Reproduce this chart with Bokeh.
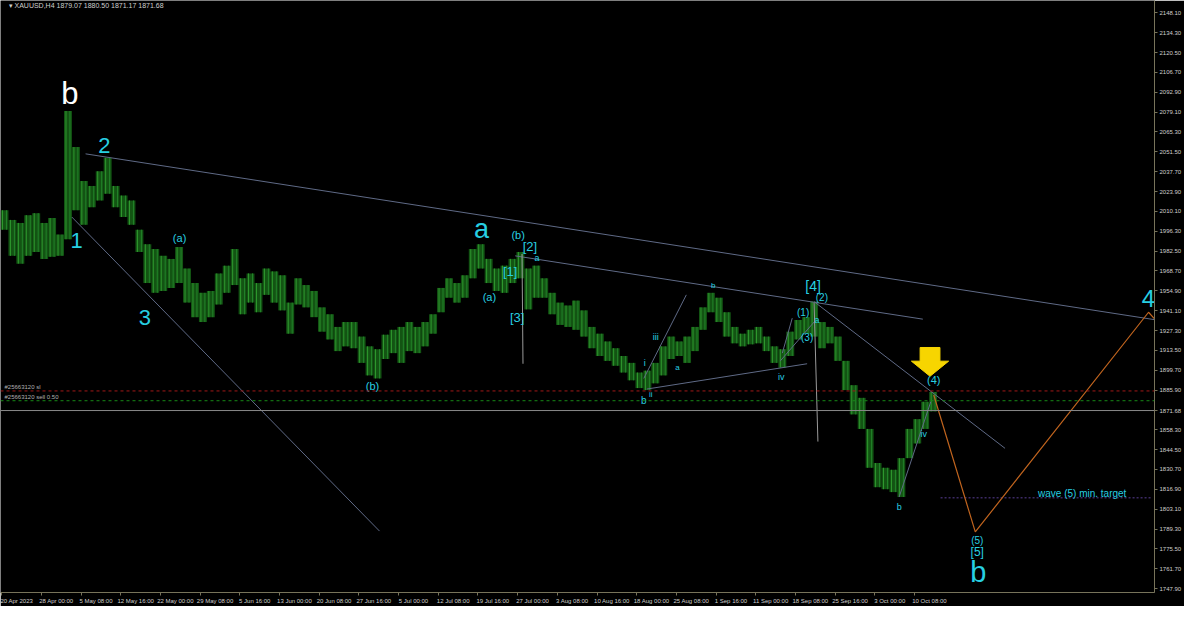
from bokeh.plotting import figure
from bokeh.models import FixedTicker, Label, Span
from bokeh.core.properties import value
from bokeh.embed import file_html
from bokeh.resources import INLINE
import numpy as np

# ---------------- data (XAUUSD H4) ----------------
# one column per ~6.4 H4 bars: high / low of that group
highs = [2010.9, 2004.2, 2002.1, 2007.5, 2008.9, 2002.1, 2005.5, 1994.0, 2079.9, 2054.8,
         2031.2, 2027.8, 2038.0, 2047.4, 2027.8, 2021.1, 2017.7, 1997.4, 1987.3, 1983.9,
         1979.2, 1977.1, 1985.3, 1970.4, 1960.3, 1953.5, 1954.8, 1967.0, 1972.4, 1983.9,
         1963.6, 1967.0, 1960.3, 1970.4, 1968.4, 1965.7, 1946.7, 1963.6, 1958.9, 1954.8,
         1943.4, 1938.6, 1929.8, 1933.2, 1933.2, 1923.1, 1916.3, 1914.3, 1924.4, 1927.8,
         1929.8, 1933.2, 1929.8, 1933.2, 1938.6, 1956.9, 1963.6, 1960.3, 1965.7, 1983.9,
         1987.3, 1977.1, 1970.4, 1972.4, 1977.1, 1981.9, 1970.4, 1972.4, 1963.6, 1953.5,
         1946.7, 1944.7, 1948.1, 1941.3, 1929.8, 1925.1, 1919.7, 1915.0, 1909.6, 1904.8,
         1898.1, 1899.4, 1904.8, 1916.3, 1923.1, 1919.7, 1923.1, 1929.8, 1943.4, 1953.5,
         1950.1, 1940.0, 1929.8, 1925.1, 1927.8, 1929.8, 1923.1, 1916.3, 1914.3, 1926.5,
         1934.6, 1936.6, 1947.4, 1933.2, 1929.8, 1923.1, 1906.2, 1889.3, 1880.5, 1858.9,
         1835.2, 1831.9, 1830.5, 1838.6, 1858.9, 1865.7, 1877.8, 1884.6]
lows = [1997.4, 1979.2, 1973.8, 1979.2, 1981.9, 1977.1, 1978.5, 1979.2, 1990.7, 2010.9,
        2000.8, 2013.0, 2017.7, 2022.4, 2013.0, 2006.2, 2000.8, 1981.9, 1960.3, 1953.5,
        1954.8, 1956.9, 1960.3, 1946.7, 1936.6, 1933.2, 1936.6, 1945.4, 1953.5, 1958.9,
        1938.6, 1946.7, 1940.0, 1952.1, 1946.7, 1941.3, 1925.1, 1945.4, 1943.4, 1936.6,
        1926.5, 1921.1, 1913.0, 1916.3, 1915.0, 1904.8, 1896.1, 1894.0, 1907.5, 1911.6,
        1904.8, 1913.0, 1911.6, 1916.3, 1925.1, 1940.0, 1950.1, 1946.7, 1950.1, 1963.6,
        1970.4, 1960.3, 1954.8, 1953.5, 1960.3, 1963.6, 1942.0, 1950.1, 1950.1, 1938.6,
        1931.2, 1929.8, 1927.8, 1923.1, 1915.0, 1909.6, 1906.2, 1902.8, 1898.1, 1892.7,
        1887.3, 1885.9, 1890.6, 1896.1, 1907.5, 1909.6, 1904.8, 1913.0, 1927.8, 1940.0,
        1933.2, 1923.1, 1918.4, 1916.3, 1917.7, 1918.4, 1913.0, 1904.8, 1901.5, 1909.6,
        1921.1, 1925.1, 1923.1, 1915.0, 1918.4, 1906.2, 1885.9, 1869.0, 1858.9, 1831.9,
        1818.4, 1817.0, 1815.0, 1811.6, 1838.6, 1848.8, 1858.9, 1871.1]

time_labels = ["20 Apr 2023", "28 Apr 00:00", "5 May 08:00", "12 May 16:00", "22 May 00:00",
               "29 May 08:00", "5 Jun 16:00", "13 Jun 00:00", "20 Jun 08:00", "27 Jun 16:00",
               "5 Jul 00:00", "12 Jul 08:00", "19 Jul 16:00", "27 Jul 00:00", "3 Aug 08:00",
               "10 Aug 16:00", "18 Aug 00:00", "25 Aug 08:00", "1 Sep 16:00", "11 Sep 00:00",
               "18 Sep 08:00", "25 Sep 16:00", "3 Oct 00:00", "10 Oct 08:00"]
price_labels = ["2148.10", "2134.30", "2120.50", "2106.70", "2092.90", "2079.10", "2065.30",
                "2051.50", "2037.70", "2023.90", "2010.10", "1996.30", "1982.50", "1968.70",
                "1954.90", "1941.10", "1927.30", "1913.50", "1899.70", "1885.90", "1858.30",
                "1844.50", "1830.70", "1816.90", "1803.10", "1789.30", "1775.50", "1761.70",
                "1747.90"]

last_price = 1871.68
header = "XAUUSD,H4  1879.07 1880.50 1871.17 1871.68"
sl_level, sl_text = 1885.3, "#25663120 sl"
entry_level, entry_text = 1878.5, "#25663120 sell 0.50"
target_level, target_text = 1811.0, "wave (5) min. target"

BARS_PER_COL = 6.4
xs = np.arange(len(highs)) * BARS_PER_COL + 3.2

CYAN = "#27cfe2"
FONT = "Liberation Sans"

p = figure(width=1184, height=606, x_range=(0, 930.5), y_range=(1745.2, 2156.7),
           y_axis_location="right", output_backend="svg", toolbar_location=None,
           background_fill_color="black", border_fill_color="black",
           min_border_left=0, min_border_top=0, min_border_bottom=0, min_border_right=0)
p.outline_line_color = None
p.grid.visible = False

# axes
AX = "#77735a"
for ax in (p.xaxis[0], p.yaxis[0]):
    ax.axis_line_color = AX
    ax.major_tick_line_color = AX
    ax.minor_tick_line_color = AX
    ax.major_tick_out = 3
    ax.major_tick_in = 0
    ax.minor_tick_in = 0
    ax.major_label_text_color = "#cfcfcf"
    ax.major_label_text_font = FONT
    ax.major_label_text_font_size = "6px"
    ax.major_label_standoff = 2

# MT4 writes each time label to the right of its tick: ticks marked as minor ticks,
# label anchors shifted by half a label width
tick_pos = [1 + 32 * k for k in range(len(time_labels))]
label_pos = [t + 12 for t in tick_pos]
p.xaxis.ticker = FixedTicker(ticks=label_pos, minor_ticks=tick_pos)
p.xaxis.major_label_overrides = {t: s for t, s in zip(label_pos, time_labels)}
p.xaxis.major_tick_out = 0
p.xaxis.minor_tick_out = 3

# price scale, including the current-price tag
yvals = [float(s) for s in price_labels]
p.yaxis.ticker = FixedTicker(ticks=yvals + [last_price])
overrides = {v: s for v, s in zip(yvals, price_labels)}
overrides[last_price] = f"{last_price:.2f}"
p.yaxis.major_label_overrides = overrides

# horizontal levels
p.add_layout(Span(location=sl_level, dimension="width", line_color="#a01818",
                  line_dash="3 3", line_width=1))
p.add_layout(Span(location=entry_level, dimension="width", line_color="#178a17",
                  line_dash="3 3", line_width=1))
p.add_layout(Span(location=last_price, dimension="width", line_color="#8a8a8a", line_width=1))
p.segment(x0=[758], y0=[target_level], x1=[928], y1=[target_level], line_color="#5a3f96",
          line_dash="2 2", line_width=1)

# price bars: solid band plus thin bright bar strokes
p.vbar(x=xs, top=highs, bottom=lows, width=BARS_PER_COL,
       fill_color="#135413", line_color=None)
p.segment(x0=xs - 1.6, y0=lows, x1=xs - 1.6, y1=highs, line_color="#2f9a2f", line_width=1)
p.segment(x0=xs + 1.6, y0=lows, x1=xs + 1.6, y1=highs, line_color="#22842a", line_width=1)

# trend lines
LN = "#5f6a86"
seg = [((68.6, 2050.1), (937.6, 1933.9)),
       ((415.0, 1979.2), (743.7, 1935.2)),
       ((57.5, 2006.2), (305.6, 1787.9)),
       ((521.1, 1886.6), (650.4, 1904.2)),
       ((518.7, 1894.0), (553.0, 1952.1)),
       ((628.8, 1906.2), (656.0, 1933.2)),
       ((630.4, 1911.6), (638.4, 1935.9)),
       ((656.0, 1947.4), (810.0, 1845.4)),
       ((724.6, 1811.6), (750.1, 1877.8))]
p.segment(x0=[s[0][0] for s in seg], y0=[s[0][1] for s in seg],
          x1=[s[1][0] for s in seg], y1=[s[1][1] for s in seg],
          line_color=LN, line_width=1)
vert = [((420.5, 1980.5), (421.3, 1904.2)), ((656.0, 1946.7), (659.1, 1850.1))]
p.segment(x0=[s[0][0] for s in vert], y0=[s[0][1] for s in vert],
          x1=[s[1][0] for s in vert], y1=[s[1][1] for s in vert],
          line_color="#9a9a9a", line_width=1)

# projected path
p.line(x=[752.5, 786.0, 925.7, 940.0], y=[1882.5, 1787.3, 1940.0, 1926.5],
       line_color="#c0641e", line_width=1.2)

# yellow arrow
ax_c, ay_tip = 749.5, 1895.5
p.patch(x=[ax_c - 8, ax_c + 8, ax_c + 8, ax_c + 15, ax_c, ax_c - 15, ax_c - 8],
        y=[1915.5, 1915.5, 1906.0, 1906.0, ay_tip, 1906.0, 1906.0],
        fill_color="#f7d500", line_color="#f7d500")

# wave labels
def lab(x, y, t, size, color=CYAN):
    p.text(x=[x], y=[y], text=[t], text_color=color, text_font=value(FONT),
           text_font_size=size, text_align="center", text_baseline="middle")

lab(55.9, 2092.0, "b", "31px", "white")
lab(83.8, 2056.2, "2", "22px")
lab(61.4, 1990.0, "1", "22px")
lab(116.5, 1936.6, "3", "22px")
lab(144.4, 1991.3, "(a)", "11px")
lab(300.0, 1888.6, "(b)", "11px")
lab(387.8, 1998.1, "a", "27px")
lab(394.2, 1950.8, "(a)", "11px")
lab(417.4, 1994.0, "(b)", "11px")
lab(426.9, 1985.9, "[2]", "13px")
lab(432.5, 1977.8, "a", "9px")
lab(411.0, 1968.4, "[1]", "13px")
lab(416.6, 1936.6, "[3]", "13px")
lab(519.5, 1904.8, "i", "9px")
lab(528.3, 1923.1, "iii", "9px")
lab(545.8, 1901.5, "a", "8px")
lab(518.7, 1878.5, "b", "10px")
lab(524.3, 1882.5, "ii", "8px")
lab(574.6, 1958.9, "b", "8px")
lab(629.6, 1894.7, "iv", "9px")
lab(655.2, 1958.2, "[4]", "14px")
lab(662.3, 1950.1, "(2)", "10px")
lab(647.2, 1940.0, "(1)", "10px")
lab(658.4, 1934.6, "a", "9px")
lab(650.4, 1922.4, "(3)", "10px")
lab(752.5, 1892.7, "(4)", "11px")
lab(744.5, 1855.5, "iv", "9px")
lab(724.6, 1804.8, "b", "9px")
lab(787.6, 1781.2, "(5)", "10px")
lab(787.6, 1773.1, "[5]", "12px")
lab(788.4, 1759.6, "b", "29px")
lab(925.7, 1949.4, "4", "24px")
lab(872.2, 1814.3, target_text, "10px")

# small texts
p.text(x=[3.2, 3.2], y=[sl_level + 0.6, entry_level + 0.6], text=[sl_text, entry_text],
       text_color="#b0b0b0", text_font=value(FONT), text_font_size="6px",
       text_baseline="bottom", text_align="left")
p.add_layout(Label(x=6.5, y=2153.2, text="\u25be " + header, text_color="#cfcfcf",
                   text_font=FONT, text_font_size="7px", text_baseline="middle"))

open("out.html", "w").write(file_html(p, INLINE))
